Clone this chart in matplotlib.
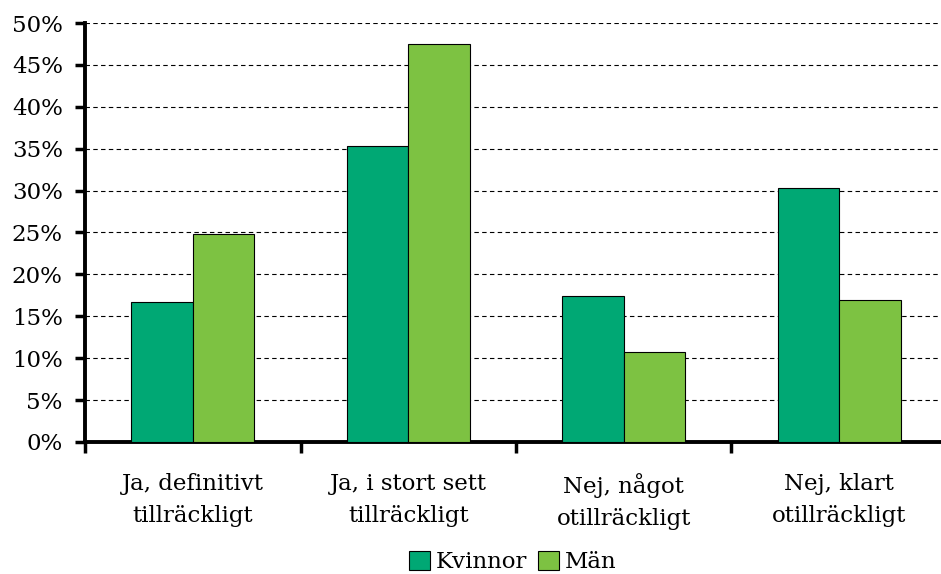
import numpy as np
import matplotlib
matplotlib.use("Agg")
from matplotlib import pyplot as plt
from matplotlib.ticker import MultipleLocator, PercentFormatter

kategorier = ["Ja, definitivt\ntillräckligt", "Ja, i stort sett\ntillräckligt",
              "Nej, något\notillräckligt", "Nej, klart\notillräckligt"]
kvinnor = [16.7, 35.3, 17.4, 30.3]
man = [24.8, 47.5, 10.7, 16.9]

plt.rcParams['font.family'] = ['DejaVu Serif']

fig = plt.figure(figsize=(9.41, 5.74), dpi=100)
ax = fig.add_axes([85/941, 132/574, 862/941, 419/574])

x = np.arange(len(kategorier))
bredd = 0.285
ax.bar(x - bredd/2, kvinnor, bredd, color="#00A874", edgecolor="black", linewidth=0.8, label="Kvinnor", zorder=3)
ax.bar(x + bredd/2, man, bredd, color="#7DC242", edgecolor="black", linewidth=0.8, label="Män", zorder=3)

ax.set_xlim(-0.5, 3.5)
ax.set_ylim(0, 50)
ax.yaxis.set_major_locator(MultipleLocator(5))
ax.yaxis.set_major_formatter(PercentFormatter(decimals=0))
ax.yaxis.grid(True, linestyle=(0, (4, 3)), color="black", linewidth=0.8, zorder=0)

ax.set_xticks(x)
ax.set_xticklabels(kategorier, fontsize=16.5, linespacing=1.6)
ax.tick_params(axis="x", length=0, pad=22)
ax.set_xticks(np.arange(-0.5, 4, 1), minor=True)
ax.tick_params(axis="x", which="minor", length=8, width=2.5, direction="out")
ax.tick_params(axis="y", labelsize=16.5, length=7, width=2.5, direction="out", pad=9)

for s in ["top", "right"]:
    ax.spines[s].set_visible(False)
ax.spines["left"].set_linewidth(2.8)
ax.spines["bottom"].set_linewidth(2.8)

fig.legend(loc="lower center", bbox_to_anchor=(0.545, -0.035), ncol=2, frameon=False,
           fontsize=16.5, handlelength=0.9, handleheight=0.9, handletextpad=0.25,
           columnspacing=0.5)

fig.savefig("out.png", dpi=100)
